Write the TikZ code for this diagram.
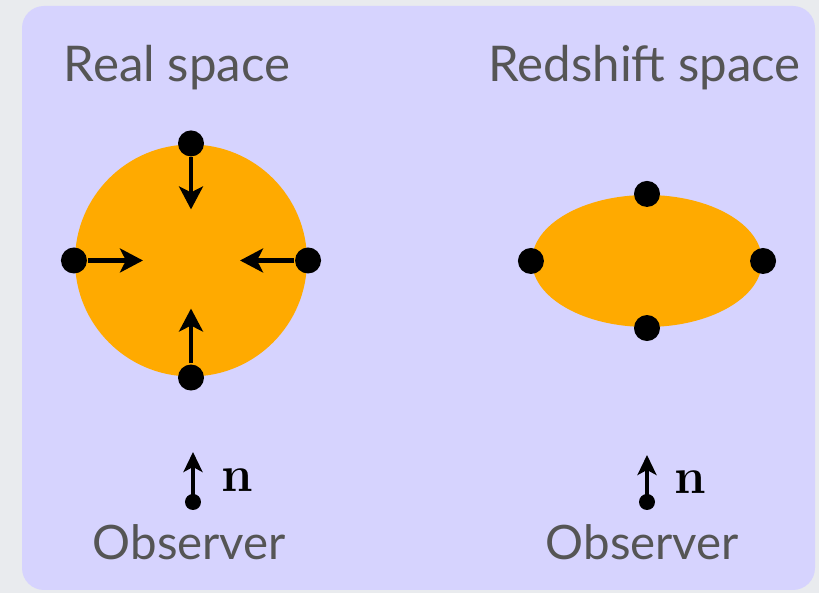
\documentclass[tikz,border=0pt]{standalone}
\usepackage[no-math]{fontspec}
\setmainfont{Lato}
\usetikzlibrary{arrows.meta,positioning,calc,shapes.geometric}
\definecolor{outerbg}{HTML}{E9EBEE}
\definecolor{panel}{HTML}{D6D3FE}
\definecolor{blob}{HTML}{FFAA00}
\definecolor{labelgray}{HTML}{555555}

\begin{document}
\begin{tikzpicture}[
    line width=0.6pt,
    galaxy/.style = {circle, fill=black, inner sep=0pt, minimum size=2.6mm},
    obsdot/.style = {circle, fill=black, inner sep=0pt, minimum size=1.6mm},
    flow/.style   = {draw=black, line width=1.15pt,
                     -{Stealth[length=2.3mm,width=2.4mm,inset=0.6mm]}},
    los/.style    = {draw=black, line width=1.0pt,
                     -{Stealth[length=2.0mm,width=1.9mm,inset=0.5mm]}},
    title/.style  = {font=\fontsize{14}{16}\selectfont, text=labelgray,
                     anchor=base, inner sep=0pt},
    obs/.style    = {font=\fontsize{13.5}{15}\selectfont, text=labelgray,
                     anchor=base, inner sep=0pt},
    nvec/.style   = {font=\fontsize{15}{17}\selectfont, anchor=base, inner sep=0pt},
  ]

  % --- Background ------------------------------------------------------
  \fill[outerbg] (0,0) rectangle (8.19,-5.93);
  \fill[panel, rounded corners=2.2mm] (0.22,-0.06) rectangle (8.15,-5.90);
  \useasboundingbox (0,0) rectangle (8.19,-5.93);

  % --- Real space ------------------------------------------------------
  \node[title] (realtitle) at (1.77,-0.82) {Real space};
  \node[circle, fill=blob, minimum size=2.32cm, inner sep=0pt] (real)
    at (1.91,-2.605) {};

  % infall towards the centre
  \foreach \s/\dx/\dy in {north/0/-0.66, west/0.69/0, east/-0.68/0, south/0/0.69}{
    \node[galaxy] (r\s) at (real.\s) {};
    \coordinate (r\s in) at ($(r\s)+(\dx,\dy)$);
    \draw[flow] (r\s) -- (r\s in);
  }

  % --- Redshift space --------------------------------------------------
  \node[title] (zsptitle) at (6.445,-0.82) {Redshift space};
  \node[ellipse, fill=blob, minimum width=2.30cm, minimum height=1.32cm,
        inner sep=0pt] (zsp) at (6.47,-2.61) {};
  \foreach \s in {north,west,east,south}{
    \node[galaxy] (z\s) at (zsp.\s) {};
  }

  % --- Observers -------------------------------------------------------
  \node[obsdot] (lobs) at (1.93,-5.02) {};
  \coordinate (lhead) at (1.93,-4.52);
  \draw[los] (lobs.center) -- (lhead);
  \node[nvec] (ln) at (2.37,-4.92) {$\mathbf{n}$};
  \node[obs] (lobstext) at (1.895,-5.60) {Observer};

  \node[obsdot] (robs) at (6.47,-5.02) {};
  \coordinate (rhead) at (6.47,-4.55);
  \draw[los] (robs.center) -- (rhead);
  \node[nvec] (rn) at (6.90,-4.94) {$\mathbf{n}$};
  \node[obs] (robstext) at (6.425,-5.60) {Observer};

\end{tikzpicture}
\end{document}
